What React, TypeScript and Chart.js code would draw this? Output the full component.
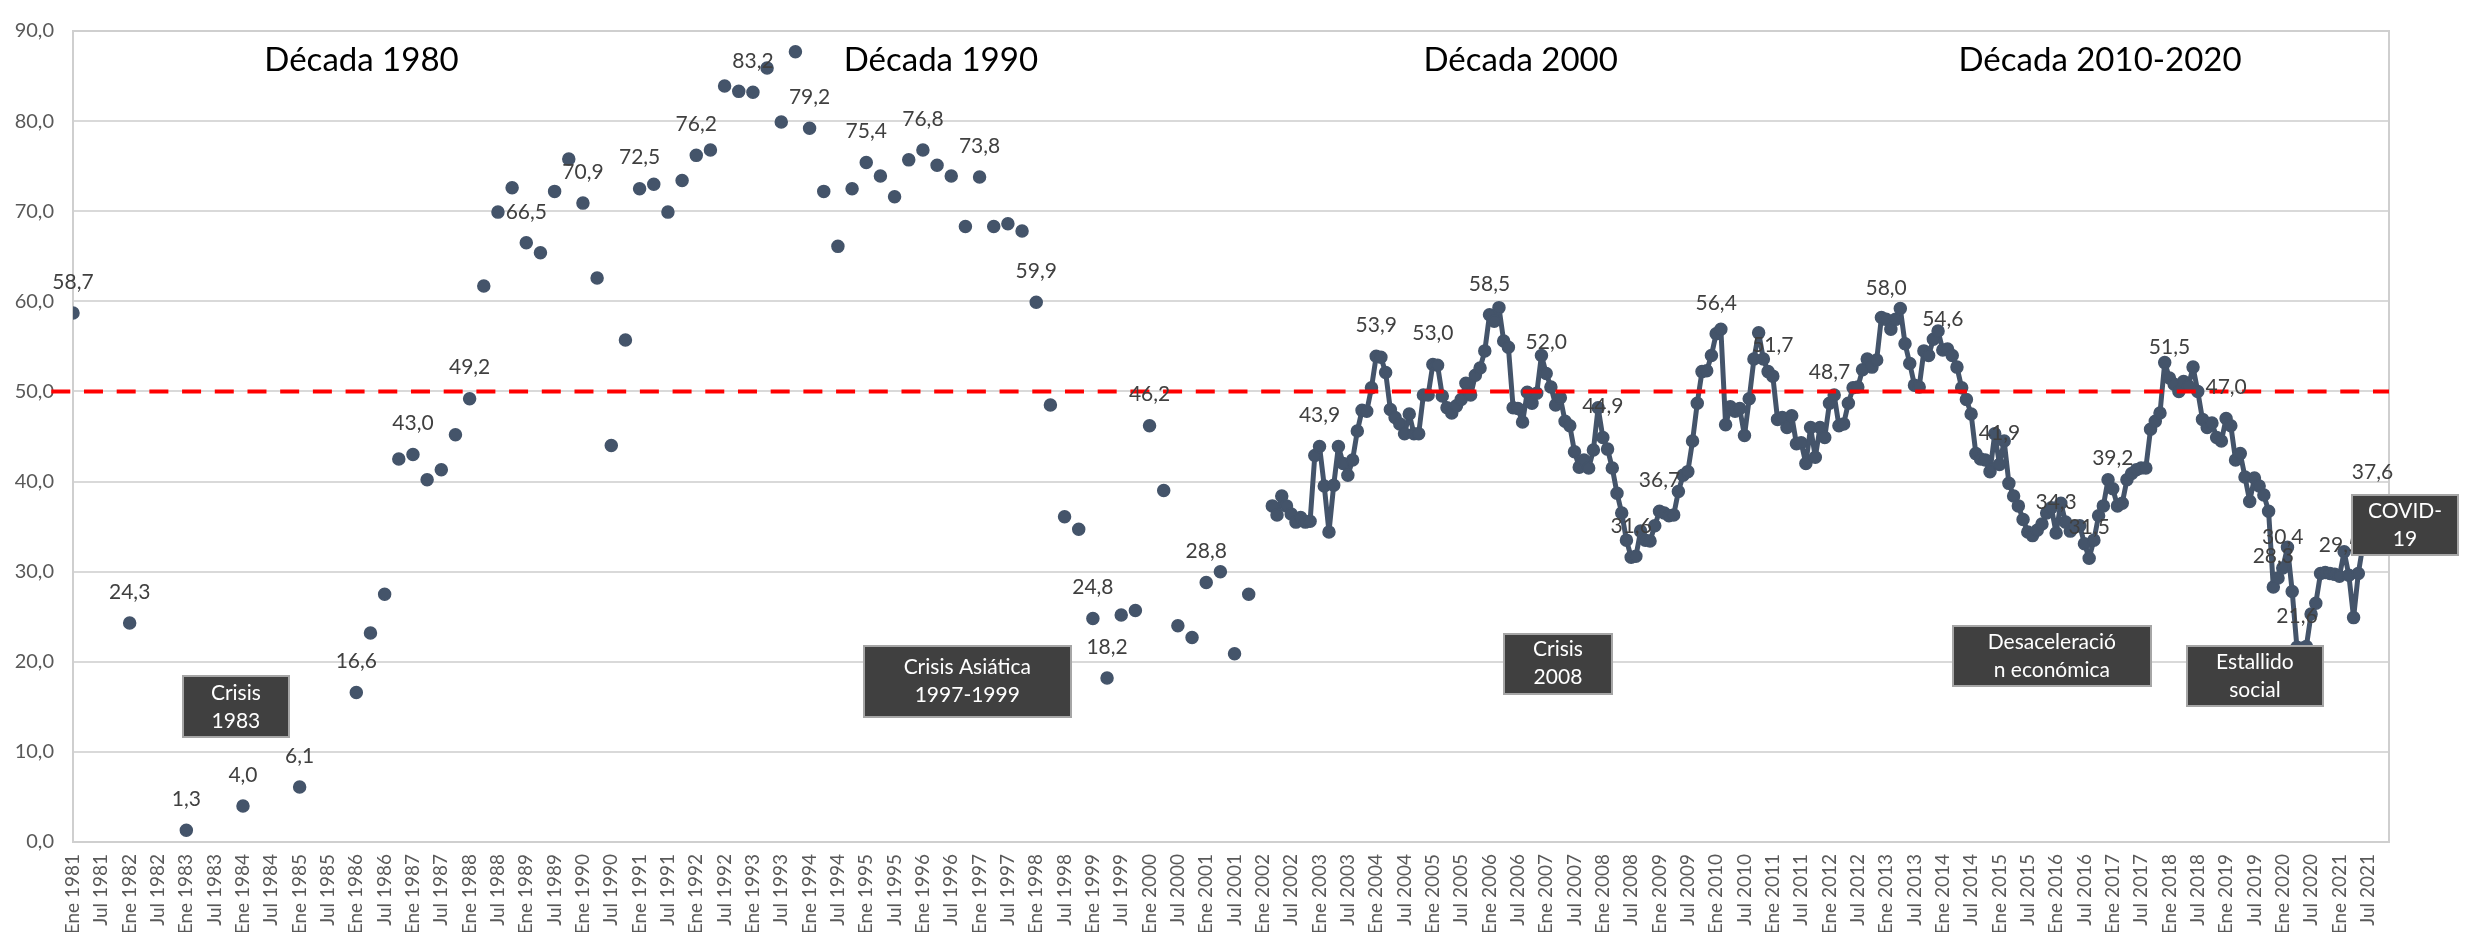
import React, { useEffect, useRef } from "react";
import { Chart, registerables } from "chart.js";

Chart.register(...registerables);

// ---------------- Data ----------------
const FIRST_YEAR = 1981;
const TICK_MONTHS = ["Ene", "Jul"];
const TICK_FIRST_YEAR = 1981;
const TICK_LAST_YEAR = 2021;

// Sparse observations (1981-2001)
const sparseDates = [
  "1981-01", "1982-01", "1983-01", "1984-01", "1985-01", "1986-01", "1986-04", "1986-07", "1986-10",
  "1987-01", "1987-04", "1987-07", "1987-10", "1988-01", "1988-04", "1988-07", "1988-10",
  "1989-01", "1989-04", "1989-07", "1989-10", "1990-01", "1990-04", "1990-07", "1990-10",
  "1991-01", "1991-04", "1991-07", "1991-10", "1992-01", "1992-04", "1992-07", "1992-10",
  "1993-01", "1993-04", "1993-07", "1993-10", "1994-01", "1994-04", "1994-07", "1994-10",
  "1995-01", "1995-04", "1995-07", "1995-10", "1996-01", "1996-04", "1996-07", "1996-10",
  "1997-01", "1997-04", "1997-07", "1997-10", "1998-01", "1998-04", "1998-07", "1998-10",
  "1999-01", "1999-04", "1999-07", "1999-10", "2000-01", "2000-04", "2000-07", "2000-10",
  "2001-01", "2001-04", "2001-07", "2001-10",
];
const sparseValues = [
  58.7, 24.3, 1.3, 4.0, 6.1, 16.6, 23.2, 27.5, 42.5,
  43.0, 40.2, 41.3, 45.2, 49.2, 61.7, 69.9, 72.6,
  66.5, 65.4, 72.2, 75.8, 70.9, 62.6, 44.0, 55.7,
  72.5, 73.0, 69.9, 73.4, 76.2, 76.8, 83.9, 83.3,
  83.2, 85.9, 79.9, 87.7, 79.2, 72.2, 66.1, 72.5,
  75.4, 73.9, 71.6, 75.7, 76.8, 75.1, 73.9, 68.3,
  73.8, 68.3, 68.6, 67.8, 59.9, 48.5, 36.1, 34.7,
  24.8, 18.2, 25.2, 25.7, 46.2, 39.0, 24.0, 22.7,
  28.8, 30.0, 20.9, 27.5,
];

// Monthly observations (Mar 2002 - Aug 2021)
const monthlyStart = "2002-03";
const monthly2002 = [37.3, 36.3, 38.4, 37.3, 36.4, 35.5, 36.0, 35.5, 35.6, 42.9];
const monthly2003 = [43.9, 39.5, 34.4, 39.6, 43.9, 42.0, 40.7, 42.4, 45.6, 47.9, 47.8, 50.4];
const monthly2004 = [53.9, 53.8, 52.1, 48.0, 47.1, 46.4, 45.3, 47.5, 45.3, 45.3, 49.6, 49.6];
const monthly2005 = [53.0, 52.9, 49.5, 48.2, 47.6, 48.4, 49.1, 50.9, 49.6, 51.8, 52.6, 54.5];
const monthly2006 = [58.5, 57.8, 59.3, 55.6, 54.9, 48.2, 48.1, 46.6, 49.9, 48.7, 49.8, 54.0];
const monthly2007 = [52.0, 50.5, 48.5, 49.3, 46.7, 46.2, 43.3, 41.6, 42.4, 41.5, 43.5, 48.2];
const monthly2008 = [44.9, 43.6, 41.5, 38.7, 36.5, 33.5, 31.6, 31.7, 34.5, 33.5, 33.4, 35.1];
const monthly2009 = [36.7, 36.5, 36.2, 36.3, 38.9, 40.7, 41.1, 44.5, 48.7, 52.2, 52.3, 54.0];
const monthly2010 = [56.4, 56.9, 46.3, 48.3, 47.8, 48.1, 45.1, 49.2, 53.6, 56.5, 53.6, 52.2];
const monthly2011 = [51.7, 46.9, 47.1, 46.0, 47.3, 44.2, 44.3, 42.0, 46.0, 42.7, 46.0, 44.9];
const monthly2012 = [48.7, 49.6, 46.2, 46.4, 48.7, 50.4, 50.5, 52.4, 53.6, 52.7, 53.5, 58.2];
const monthly2013 = [58.0, 56.9, 58.0, 59.2, 55.3, 53.1, 50.7, 50.5, 54.5, 54.0, 55.8, 56.7];
const monthly2014 = [54.6, 54.7, 54.0, 52.7, 50.4, 49.1, 47.5, 43.1, 42.5, 42.4, 41.1, 45.3];
const monthly2015 = [41.9, 44.5, 39.8, 38.4, 37.3, 35.8, 34.4, 34.0, 34.6, 35.3, 36.5, 37.1];
const monthly2016 = [34.3, 37.6, 35.5, 34.5, 35.0, 35.1, 33.1, 31.5, 33.5, 36.2, 37.3, 40.2];
const monthly2017 = [39.2, 37.3, 37.6, 40.2, 40.9, 41.3, 41.5, 41.5, 45.8, 46.7, 47.6, 53.2];
const monthly2018 = [51.5, 50.8, 50.0, 51.1, 50.6, 52.7, 50.0, 46.9, 46.0, 46.5, 44.9, 44.5];
const monthly2019 = [47.0, 46.2, 42.4, 43.1, 40.5, 37.8, 40.4, 39.5, 38.5, 36.7, 28.3, 29.3];
const monthly2020 = [30.4, 32.7, 27.8, 21.6, 21.5, 21.7, 25.3, 26.5, 29.8, 29.9, 29.8, 29.7];
const monthly2021 = [29.5, 32.2, 29.6, 24.9, 29.8, 33.0, 35.5, 37.6];

const monthlyValues = [
  ...monthly2002, ...monthly2003, ...monthly2004, ...monthly2005, ...monthly2006,
  ...monthly2007, ...monthly2008, ...monthly2009, ...monthly2010, ...monthly2011,
  ...monthly2012, ...monthly2013, ...monthly2014, ...monthly2015, ...monthly2016,
  ...monthly2017, ...monthly2018, ...monthly2019, ...monthly2020, ...monthly2021,
];

// Points that carry a data label
const labeledDates = [
  "1981-01", "1982-01", "1983-01", "1984-01", "1985-01", "1986-01", "1987-01", "1988-01",
  "1989-01", "1990-01", "1991-01", "1992-01", "1993-01", "1994-01", "1995-01", "1996-01",
  "1997-01", "1998-01", "1999-01", "1999-04", "2000-01", "2001-01", "2003-01", "2004-01",
  "2005-01", "2006-01", "2007-01", "2008-01", "2008-07", "2009-01", "2010-01", "2011-01",
  "2012-01", "2013-01", "2014-01", "2015-01", "2016-01", "2016-08", "2017-01", "2018-01",
  "2019-01", "2019-11", "2020-01", "2020-04", "2021-01", "2021-08",
];

const thresholdValue = 50;

const decadeTitles = ["Década 1980", "Década 1990", "Década 2000", "Década 2010-2020"];
const eventTexts = [
  ["Crisis", "1983"],
  ["Crisis Asiática", "1997-1999"],
  ["Crisis", "2008"],
  ["Desaceleració", "n económica"],
  ["Estallido", "social"],
  ["COVID-", "19"],
];

// ---------------- Layout (annotation anchors in axis units, sizes in px) ----------------
const X_MAX = 490.5;
const REF_LINE_START = -4.6;
const decadeTitleX = [61.1, 183.8, 306.6, 429.3];
const decadeTitleY = 86.7;
const eventBoxes = [
  { cx: 34.5, cy: 15.0, w: 106, h: 61 },
  { cx: 189.4, cy: 17.8, w: 207, h: 71 },
  { cx: 314.5, cy: 19.8, w: 108, h: 60 },
  { cx: 419.1, cy: 20.6, w: 198, h: 60 },
  { cx: 462.1, cy: 18.4, w: 136, h: 60 },
  { cx: 493.9, cy: 35.2, w: 106, h: 60 },
];

const SERIES_COLOR = "#44546a";
const FONT = "Lato, 'Open Sans', sans-serif";

// ---------------- Helpers ----------------
const toIndex = (d: string) => {
  const [y, m] = d.split("-").map(Number);
  return (y - FIRST_YEAR) * 12 + (m - 1);
};

const fmt = (v: number) => v.toFixed(1).replace(".", ",");

const xTickValues: number[] = [];
const xTickLabels: string[] = [];
for (let y = TICK_FIRST_YEAR; y <= TICK_LAST_YEAR; y++) {
  TICK_MONTHS.forEach((name, k) => {
    xTickValues.push((y - FIRST_YEAR) * 12 + k * 6);
    xTickLabels.push(`${name} ${y}`);
  });
}

const sparsePoints = sparseDates.map((d, i) => ({ x: toIndex(d), y: sparseValues[i] }));
const monthlyStartIdx = toIndex(monthlyStart);
const monthlyPoints = monthlyValues.map((v, i) => ({ x: monthlyStartIdx + i, y: v }));

const valueAt = (idx: number): number | undefined => {
  const s = sparsePoints.find((p) => p.x === idx);
  if (s) return s.y;
  const m = monthlyPoints.find((p) => p.x === idx);
  return m ? m.y : undefined;
};

const overlayPlugin = {
  id: "overlay",
  beforeDatasetsDraw(chart: any) {
    const { ctx, chartArea } = chart;
    ctx.save();
    ctx.strokeStyle = "#cfcfcf";
    ctx.lineWidth = 2;
    ctx.strokeRect(chartArea.left, chartArea.top, chartArea.right - chartArea.left, chartArea.bottom - chartArea.top);
    ctx.restore();
  },
  afterDatasetsDraw(chart: any) {
    const { ctx, chartArea } = chart;
    const xs = chart.scales.x;
    const ys = chart.scales.y;

    // threshold line
    ctx.save();
    const yT = ys.getPixelForValue(thresholdValue);
    ctx.strokeStyle = "#ff0000";
    ctx.lineWidth = 4;
    ctx.lineCap = "butt";
    ctx.setLineDash([19, 13.7]);
    ctx.beginPath();
    ctx.moveTo(xs.getPixelForValue(REF_LINE_START), yT);
    ctx.lineTo(chartArea.right, yT);
    ctx.stroke();
    ctx.restore();

    // data labels
    ctx.save();
    ctx.font = `21px ${FONT}`;
    ctx.fillStyle = "#404040";
    ctx.textAlign = "center";
    ctx.textBaseline = "middle";
    labeledDates.forEach((d) => {
      const idx = toIndex(d);
      const v = valueAt(idx);
      if (v === undefined) return;
      ctx.fillText(fmt(v), xs.getPixelForValue(idx), ys.getPixelForValue(v) - 31);
    });
    ctx.restore();

    // decade titles
    ctx.save();
    ctx.font = `33px ${FONT}`;
    ctx.fillStyle = "#000000";
    ctx.textAlign = "center";
    ctx.textBaseline = "middle";
    decadeTitles.forEach((t, i) => {
      ctx.fillText(t, xs.getPixelForValue(decadeTitleX[i]), ys.getPixelForValue(decadeTitleY));
    });
    ctx.restore();

    // event boxes
    ctx.save();
    eventBoxes.forEach((b, i) => {
      const cx = xs.getPixelForValue(b.cx);
      const cy = ys.getPixelForValue(b.cy);
      const x0 = Math.round(cx - b.w / 2);
      const y0 = Math.round(cy - b.h / 2);
      ctx.fillStyle = "#404040";
      ctx.fillRect(x0, y0, b.w, b.h);
      ctx.strokeStyle = "#a6a6a6";
      ctx.lineWidth = 2;
      ctx.strokeRect(x0, y0, b.w, b.h);
      ctx.fillStyle = "#ffffff";
      ctx.font = `21px ${FONT}`;
      ctx.textAlign = "center";
      ctx.textBaseline = "middle";
      const lines = eventTexts[i];
      ctx.fillText(lines[0], cx, cy - 14);
      ctx.fillText(lines[1], cx, cy + 14);
    });
    ctx.restore();
  },
};

export default function App() {
  const canvasRef = useRef<HTMLCanvasElement | null>(null);

  useEffect(() => {
    if (!canvasRef.current) return;
    const pointStyle = {
      borderColor: SERIES_COLOR,
      backgroundColor: SERIES_COLOR,
      pointBackgroundColor: SERIES_COLOR,
      pointBorderColor: SERIES_COLOR,
      pointBorderWidth: 1.5,
      pointRadius: 6,
      pointHoverRadius: 6,
    };
    const chart = new Chart(canvasRef.current, {
      type: "line",
      data: {
        datasets: [
          {
            ...pointStyle,
            data: monthlyPoints,
            borderWidth: 5,
            tension: 0,
            showLine: true,
            borderJoinStyle: "round",
            borderCapStyle: "round",
          },
          { ...pointStyle, data: sparsePoints, showLine: false },
        ],
      },
      options: {
        animation: false,
        responsive: true,
        maintainAspectRatio: false,
        devicePixelRatio: 1,
        layout: { padding: { left: 0, right: 77, top: 16, bottom: 0 } },
        plugins: {
          legend: { display: false },
          tooltip: { enabled: false },
          title: { display: false },
        },
        scales: {
          x: {
            type: "linear",
            min: 0,
            max: X_MAX,
            afterBuildTicks: (s: any) => {
              s.ticks = xTickValues.map((v) => ({ value: v }));
            },
            afterFit: (s: any) => {
              s.height = 90;
            },
            ticks: {
              autoSkip: false,
              minRotation: 90,
              maxRotation: 90,
              padding: 12,
              color: "#595959",
              font: { family: FONT, size: 19 },
              callback: (_v: any, i: number) => xTickLabels[i],
            },
            grid: { display: false, drawTicks: false },
            border: { display: true, color: "#bfbfbf", width: 2 },
          },
          y: {
            min: 0,
            max: 90,
            afterFit: (s: any) => {
              s.width = 73;
            },
            ticks: {
              stepSize: 10,
              padding: 19,
              color: "#595959",
              font: { family: FONT, size: 20 },
              callback: (v: any) => fmt(Number(v)),
            },
            grid: { color: "#d9d9d9", lineWidth: 2, drawTicks: false },
            border: { display: true, color: "#bfbfbf", width: 2 },
          },
        },
      } as any,
      plugins: [overlayPlugin],
    });
    return () => chart.destroy();
  }, []);

  return (
    <div style={{ position: "fixed", left: 0, top: 0, width: 2466, height: 932, background: "#ffffff" }}>
      <canvas ref={canvasRef} />
    </div>
  );
}
